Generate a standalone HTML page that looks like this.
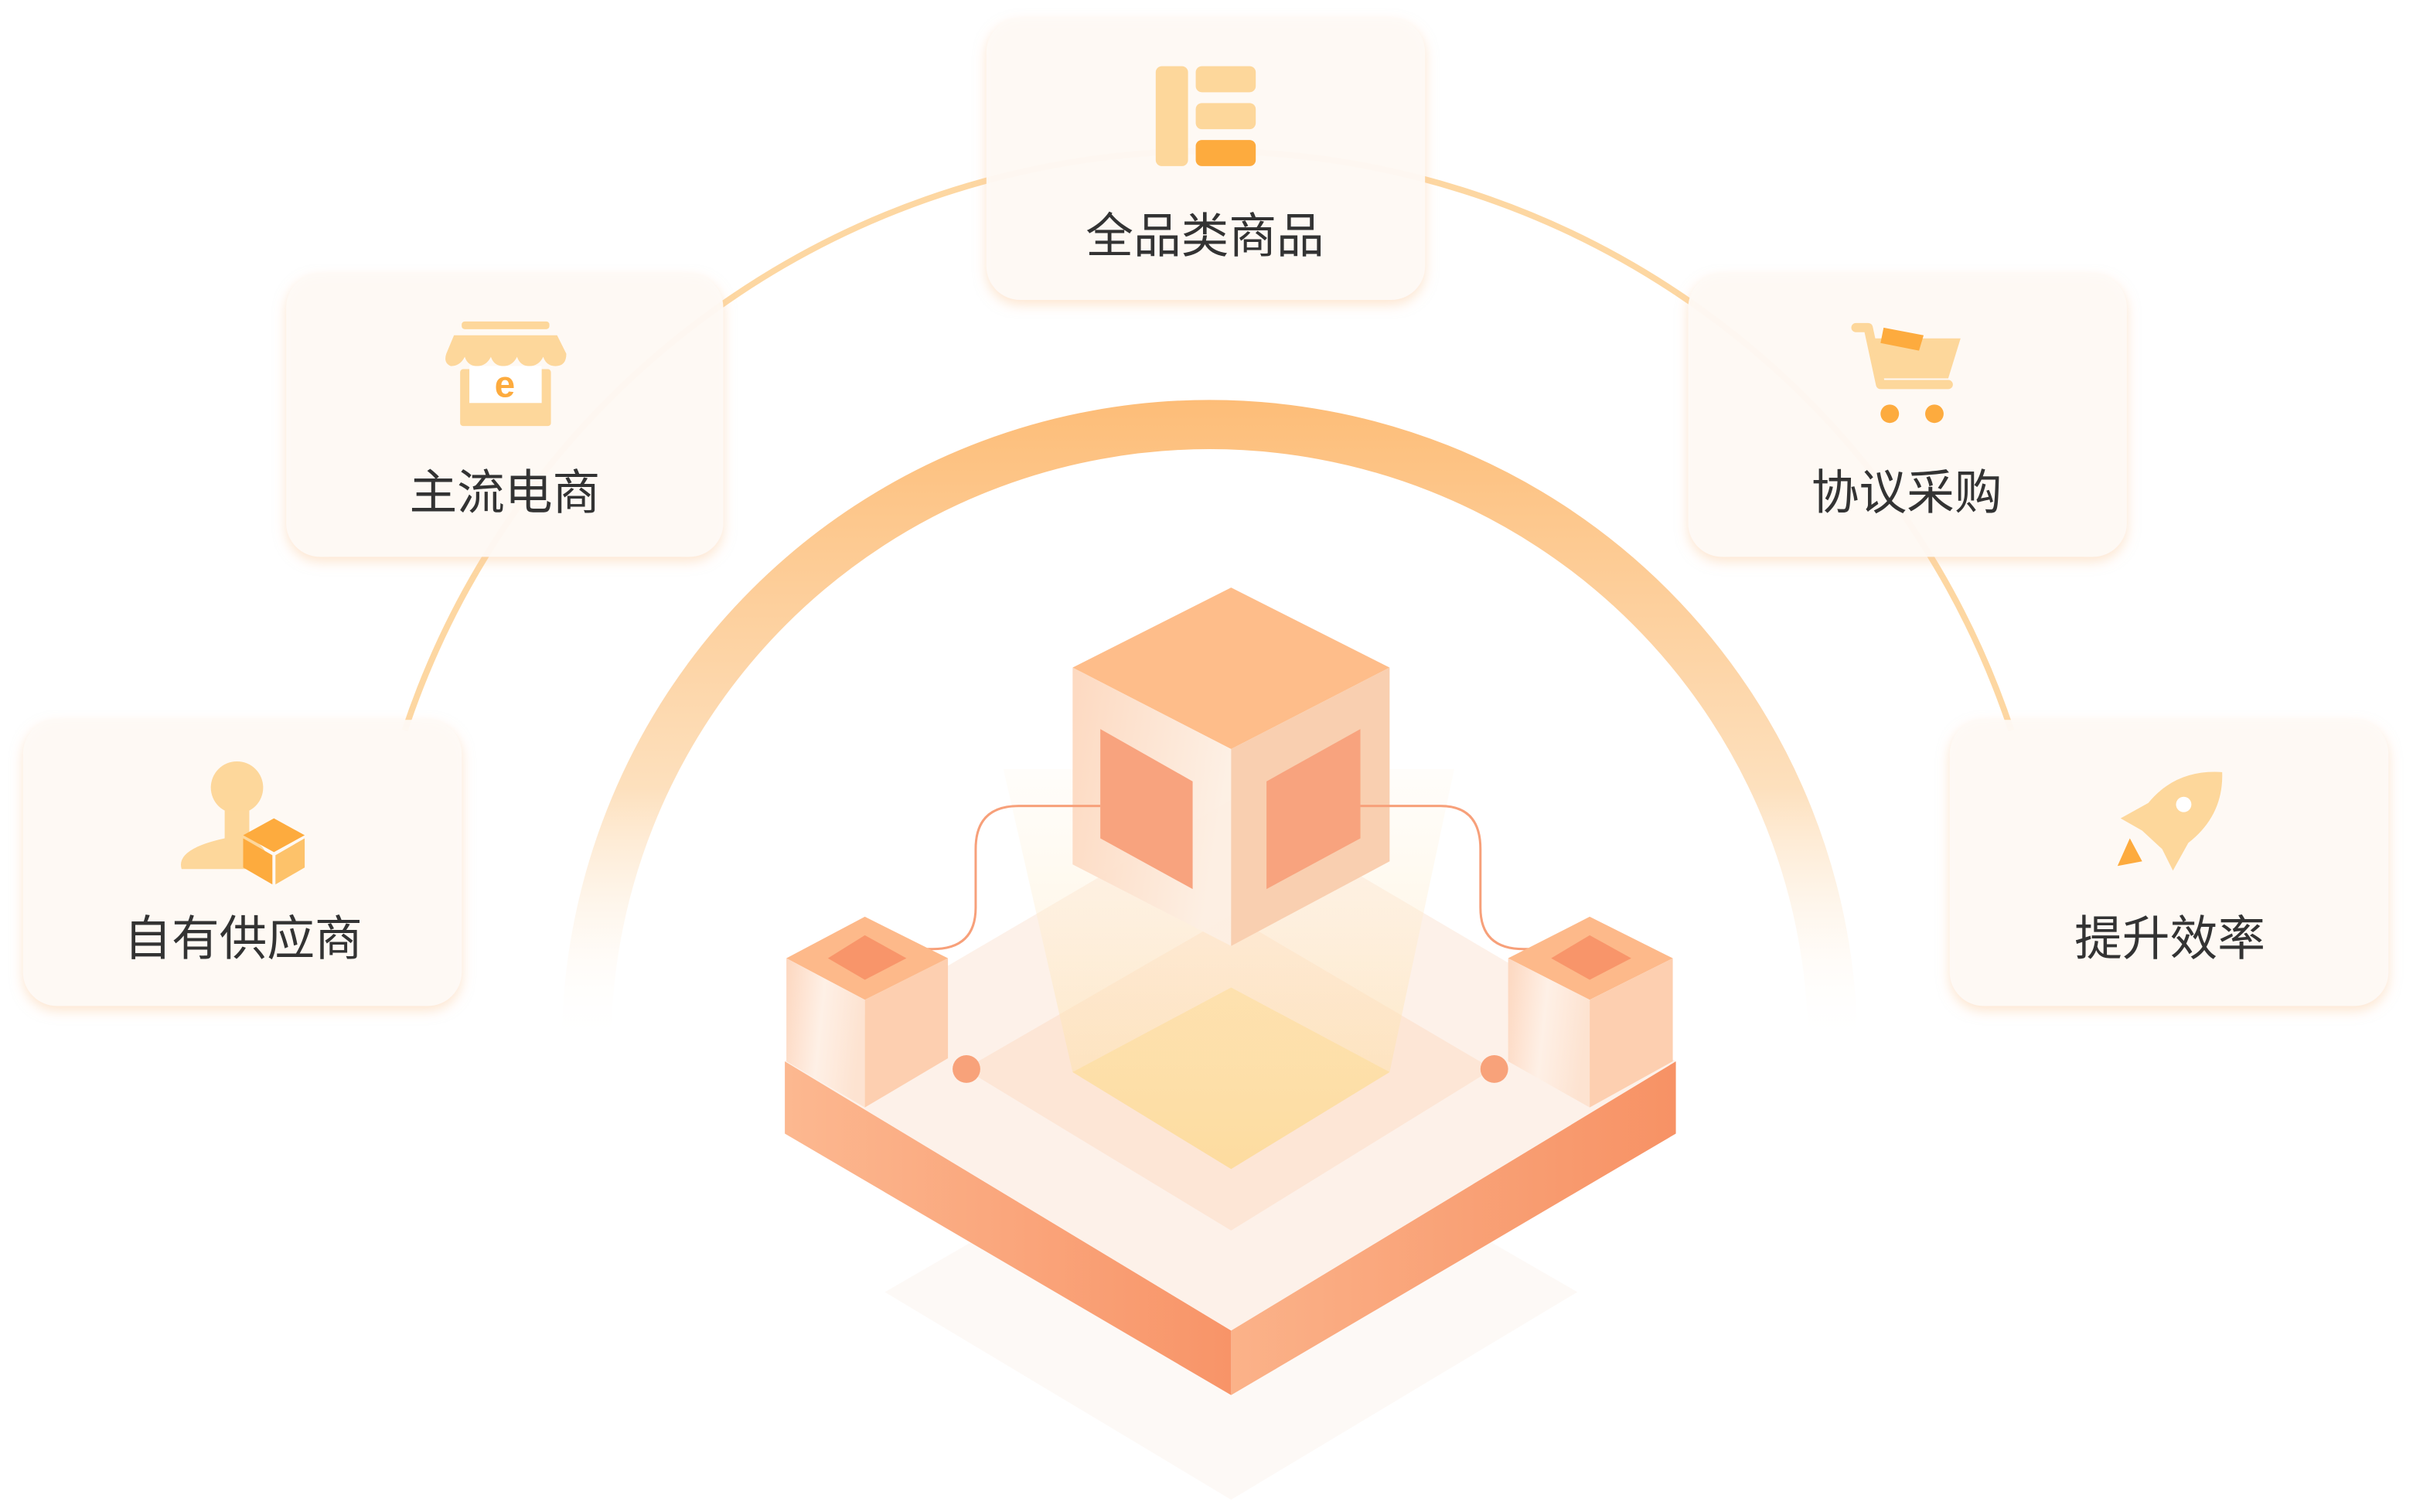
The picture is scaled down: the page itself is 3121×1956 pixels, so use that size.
<!DOCTYPE html>
<html><head><meta charset="utf-8"><style>
html,body{margin:0;padding:0;background:#fff;width:3121px;height:1956px;overflow:hidden}
svg{display:block}
text{font-family:"Liberation Sans","Noto Sans CJK SC",sans-serif;fill:#333;font-size:31px;text-anchor:middle}
</style></head><body>
<svg width="3121" height="1956" viewBox="0 0 1568 983" preserveAspectRatio="none" xmlns="http://www.w3.org/2000/svg">
<defs>
<linearGradient id="arcg" x1="0" y1="260" x2="0" y2="680" gradientUnits="userSpaceOnUse">
<stop offset="0" stop-color="#fdbd78"/><stop offset="0.6" stop-color="#fde0bd"/><stop offset="1" stop-color="#fff" stop-opacity="0"/></linearGradient>
<linearGradient id="slabL" x1="0" y1="0" x2="1" y2="0"><stop offset="0" stop-color="#fcb890"/><stop offset="1" stop-color="#f89468"/></linearGradient>
<linearGradient id="slabR" x1="0" y1="0" x2="1" y2="0"><stop offset="0" stop-color="#fbb289"/><stop offset="1" stop-color="#f79265"/></linearGradient>
<linearGradient id="cubeL" x1="0" y1="0" x2="1" y2="0.3"><stop offset="0" stop-color="#fdd7bd"/><stop offset="1" stop-color="#fdefe3"/></linearGradient>
<linearGradient id="beam" x1="0" y1="0" x2="0" y2="1"><stop offset="0" stop-color="#fff6e6" stop-opacity="0.2"/><stop offset="1" stop-color="#fddc9f" stop-opacity="0.7"/></linearGradient>
<linearGradient id="smL" x1="0" y1="0" x2="1" y2="0.2"><stop offset="0" stop-color="#fdd7bf"/><stop offset="0.5" stop-color="#fef0e6"/><stop offset="1" stop-color="#fde3d1"/></linearGradient>
<filter id="sh" x="-20%" y="-20%" width="140%" height="140%"><feDropShadow dx="0" dy="3" stdDeviation="4" flood-color="#fbc89a" flood-opacity="0.5"/></filter>
</defs>
<!-- outer arc -->
<path d="M263 475 A550 550 0 0 1 1307 475" fill="none" stroke="#fdd7a2" stroke-width="4"/>
<!-- inner thick arc -->
<path d="M381 681 A405 405 0 0 1 1191 681" fill="none" stroke="url(#arcg)" stroke-width="32"/>
<!-- shadow under base -->
<polygon points="575,840 800,710 1025,840 800,975" fill="#fdf8f4" opacity="0.8"/>
<!-- slab -->
<polygon points="510,690 800,865 800,907 510,737" fill="url(#slabL)"/>
<polygon points="800,865 1089,690 1089,737 800,907" fill="url(#slabR)"/>
<polygon points="510,690 800,520 1089,690 800,865" fill="#fdf1e9"/>
<polygon points="627,695 800,595 970,695 800,800" fill="#fde6d6"/>
<polygon points="697,697 800,642 903,697 800,760" fill="#fddb9f"/>
<!-- beam -->
<polygon points="652,500 945,500 903,697 800,760 697,697" fill="url(#beam)"/>
<!-- big cube -->
<polygon points="800,382 903,434 800,487 697,434" fill="#febd8a"/>
<polygon points="697,434 800,487 800,615 697,562" fill="url(#cubeL)" opacity="0.95"/>
<polygon points="800,487 903,434 903,560 800,615" fill="#f9cfb0"/>
<polygon points="715,474 775,508 775,578 715,545" fill="#f8a37e"/>
<polygon points="823,508 884,474 884,545 823,578" fill="#f8a37e"/>
<!-- connectors -->
<path d="M715 524 H662 Q634 524 634 552 V590 Q634 617 606 617 H575" fill="none" stroke="#f7a07a" stroke-width="1.5"/>
<path d="M884 524 H936 Q962 524 962 552 V590 Q962 617 990 617 H1025" fill="none" stroke="#f7a07a" stroke-width="1.5"/>
<circle cx="628" cy="695" r="9" fill="#f8a27a"/>
<circle cx="971" cy="695" r="9" fill="#f8a27a"/>
<!-- small cubes -->
<g>
<polygon points="562,596 616,623 562,650 511,623" fill="#fdb98a"/>
<polygon points="562,608 589,623 562,637 538,623" fill="#f8956a"/>
<polygon points="511,623 562,650 562,720 511,690" fill="url(#smL)"/>
<polygon points="562,650 616,623 616,688 562,720" fill="#fdcfb0"/>
</g>
<g>
<polygon points="1033,596 1087,623 1033,650 980,623" fill="#fdb98a"/>
<polygon points="1033,608 1060,623 1033,637 1008,623" fill="#f8956a"/>
<polygon points="980,623 1033,650 1033,720 980,690" fill="url(#smL)"/>
<polygon points="1033,650 1087,623 1087,690 1033,720" fill="#fdcfb0"/>
</g>
<!-- cards -->
<g filter="url(#sh)" fill="#fefaf5" fill-opacity="0.94">
<rect x="641" y="12" width="285" height="183" rx="22"/>
<rect x="186" y="178" width="284" height="184" rx="22"/>
<rect x="1097" y="178" width="285" height="184" rx="22"/>
<rect x="15" y="468" width="285" height="186" rx="22"/>
<rect x="1267" y="468" width="285" height="186" rx="22"/>
</g>
<!-- icon: full category -->
<rect x="751" y="43" width="21" height="65" rx="4" fill="#fdd79b"/>
<rect x="777" y="43" width="39" height="17" rx="4" fill="#fdd79b"/>
<rect x="777" y="67" width="39" height="17" rx="4" fill="#fdd79b"/>
<rect x="777" y="91" width="39" height="17" rx="4" fill="#fdab3e"/>
<!-- icon: shop -->
<rect x="300" y="209" width="57" height="5" rx="2" fill="#fdd79b"/>
<path d="M295 218 H362 L368 230 Q368 238 361 238 Q355 238 353 232 Q350 238 344 238 Q338 238 336 232 Q333 238 327 238 Q321 238 319 232 Q316 238 310 238 Q304 238 302 232 Q299 238 293 238 Q288 236 290 230 Z" fill="#fdd79b"/>
<rect x="299" y="240" width="59" height="37" rx="2" fill="#fdd79b"/>
<rect x="305" y="238" width="47" height="24" fill="#fff"/>
<text x="328" y="258" style="font-size:24px;font-weight:bold;fill:#fdab3e">e</text>
<!-- icon: cart -->
<path d="M1206 213 H1214 L1222 250 H1266" fill="none" stroke="#fdd79b" stroke-width="6" stroke-linecap="round" stroke-linejoin="round"/>
<path d="M1216 220 H1274 L1266 246 H1222 Z" fill="#fdd79b"/>
<polygon points="1224,213 1250,218 1247,228 1222,223" fill="#fdab3e"/>
<circle cx="1228" cy="269" r="6" fill="#fdab3e"/>
<circle cx="1257" cy="269" r="6" fill="#fdab3e"/>
<!-- icon: supplier -->
<circle cx="154" cy="512" r="17" fill="#fdd79b"/>
<path d="M146 527 H162 V545 Q175 550 175 565 H118 Q114 552 146 545 Z" fill="#fdd79b"/>
<polygon points="178,532 198,543 178,554 158,543" fill="#fdab3e"/>
<polygon points="158,545 177,556 177,575 158,564" fill="#fdab3e"/>
<polygon points="179,556 198,545 198,564 179,575" fill="#fdc26a"/>
<!-- icon: rocket -->
<path d="M1444 502 Q1445 530 1422 548 L1412 566 L1405 552 L1392 540 L1378 532 L1396 522 Q1414 500 1444 502 Z" fill="#fdd79b"/>
<circle cx="1419" cy="523" r="5" fill="#fff"/>
<polygon points="1384,545 1392,560 1376,563" fill="#fdab3e"/>
<!-- labels -->
<text x="783" y="164">全品类商品</text>
<text x="328" y="331">主流电商</text>
<text x="1239" y="331">协议采购</text>
<text x="158" y="621">自有供应商</text>
<text x="1410" y="621">提升效率</text>
</svg>
</body></html>
